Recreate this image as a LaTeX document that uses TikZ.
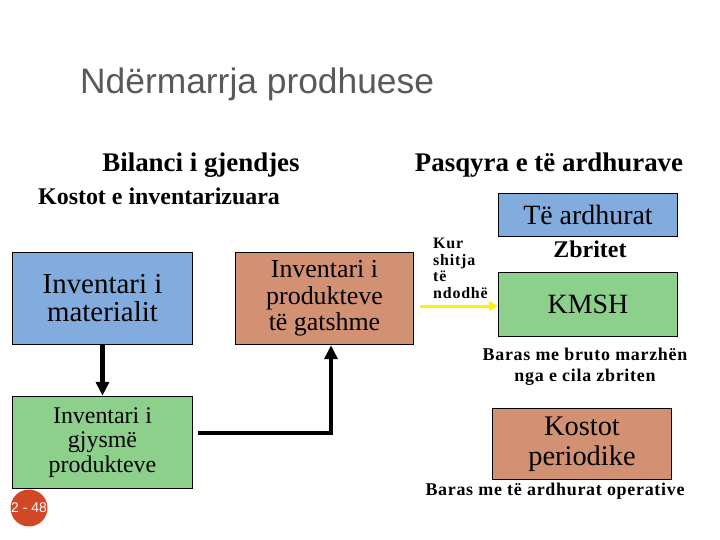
\documentclass[tikz,border=0pt]{standalone}
\usepackage{fontspec}
\setmainfont{Liberation Serif}
\newfontfamily\titlefont{Liberation Sans}
\usepackage{xcolor}
\usetikzlibrary{arrows.meta,positioning,calc}

\definecolor{boxblue}{RGB}{130,172,222}
\definecolor{boxsalmon}{RGB}{210,145,115}
\definecolor{boxgreen}{RGB}{140,208,140}
\definecolor{titlegrey}{RGB}{89,89,89}
\definecolor{badgered}{RGB}{210,71,38}

\tikzset{
    invbox/.style={draw, line width=0.8pt, align=center, inner sep=2pt},
    heading/.style={font=\fontsize{27}{30}\selectfont\bfseries, inner sep=0pt},
    note/.style={font=\fontsize{18}{21}\selectfont\bfseries\addfontfeature{LetterSpace=4}, align=center, inner sep=0pt},
    flow/.style={line width=4.5bp, -{Triangle[length=14bp,width=13bp]}},
}

\begin{document}
\begin{tikzpicture}[x=1bp, y=-1bp]
    \useasboundingbox (0,0) rectangle (720,540);

    \node[font=\titlefont\fontsize{35.5}{40}\selectfont, text=titlegrey, anchor=west, inner sep=0pt] (title) at (80,84) {Ndërmarrja prodhuese};

    \node[heading] (bilanci) at (201,165) {Bilanci i gjendjes};
    \node[heading] (pasqyra) at (549,165) {Pasqyra e të ardhurave};
    \node[font=\fontsize{24}{28}\selectfont\bfseries, anchor=west, inner sep=0pt] (kostot) at (38,196) {Kostot e inventarizuara};

    % inventaret
    \node[invbox, fill=boxblue, minimum width=180, minimum height=93, font=\fontsize{29}{28}\selectfont] (materialit) at (102.5,298.5) {Inventari i\\materialit};
    \node[invbox, fill=boxsalmon, minimum width=179, minimum height=93, font=\fontsize{26}{26.5}\selectfont] (gatshme) at (324.5,298.5) {Inventari i\\produkteve\\të gatshme};
    \node[invbox, fill=boxgreen, minimum width=181, minimum height=93, font=\fontsize{24}{24.5}\selectfont] (gjysme) at (102.5,442.5) {Inventari i\\gjysmë\\produkteve};

    % pasqyra
    \node[invbox, fill=boxblue, minimum width=180, minimum height=43, font=\fontsize{28}{30}\selectfont] (ardhurat) at (588,214.5) {Të ardhurat};
    \node[font=\fontsize{24}{26}\selectfont\bfseries, inner sep=0pt] (zbritet) at (590,249) {Zbritet};
    \node[invbox, fill=boxgreen, minimum width=180, minimum height=65, font=\fontsize{28}{30}\selectfont] (kmsh) at (588,304.5) {KMSH};
    \node[note] (bruto) at (585,366.5) {Baras me bruto marzhën\\nga e cila zbriten};
    \node[invbox, fill=boxsalmon, minimum width=180, minimum height=72, font=\fontsize{28.5}{30}\selectfont] (periodike) at (582,444) {Kostot\\periodike};
    \node[note] (operative) at (555,491) {Baras me të ardhurat operative};

    \node[font=\fontsize{16}{16.7}\selectfont\bfseries\addfontfeature{LetterSpace=5}, align=left, anchor=north west, inner sep=0pt] (shitja) at (433,238) {Kur\\shitja\\të\\ndodhë};

    \node[circle, fill=badgered, text=white, minimum size=36, inner sep=0pt, font=\titlefont\fontsize{14}{16}\selectfont] (faqe) at (29,508) {2 - 48};

    \coordinate (sale) at (420,306);

    \draw[flow] (materialit) -- (gjysme);
    \draw[flow] ([xshift=5bp,yshift=9.5bp]gjysme.east) -| ([xshift=6.5bp]gatshme.south);
    \draw[line width=3bp, yellow, -{Triangle[length=9bp,width=9bp]}] (sale) -- (kmsh.west |- sale);
\end{tikzpicture}
\end{document}
